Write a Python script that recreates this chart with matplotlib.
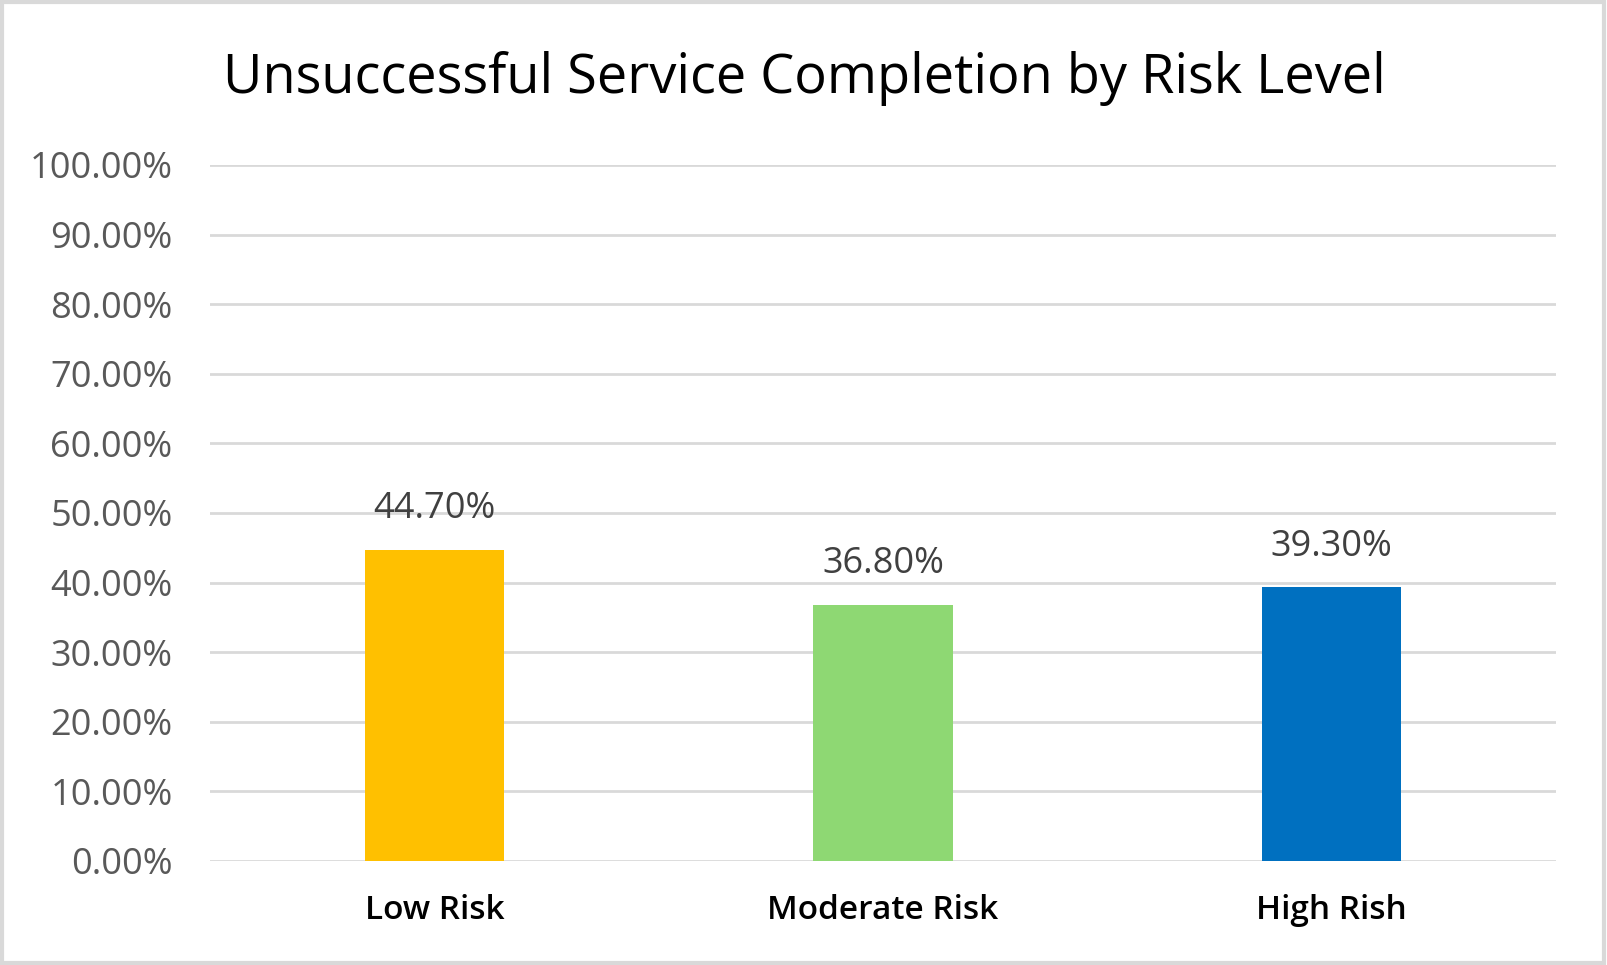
import matplotlib.pyplot as plt
from matplotlib.patches import Rectangle

# data
categories = ["Low Risk", "Moderate Risk", "High Rish"]
values = [44.70, 36.80, 39.30]
colors = ["#FFC000", "#8ED873", "#0070C0"]
yticks = [0, 10, 20, 30, 40, 50, 60, 70, 80, 90, 100]

plt.rcParams['font.family'] = ['Open Sans', 'DejaVu Sans']

fig = plt.figure(figsize=(16.07, 9.65), dpi=100)
ax = fig.add_axes([210 / 1607, 1 - 861 / 965, (1556 - 210) / 1607, (861 - 165) / 965])

x = range(len(categories))
bars = ax.bar(x, values, width=0.31, color=colors, zorder=3)

for b, v in zip(bars, values):
    ax.text(b.get_x() + b.get_width() / 2, v + 3.3, "%.2f%%" % v,
            ha="center", va="bottom", fontsize=26, color="#404040")

ax.set_xlim(-0.5, len(categories) - 0.5)
ax.set_ylim(0, 100)
ax.set_yticks(yticks)
ax.set_yticklabels(["%.2f%%" % t for t in yticks], fontsize=26, color="#595959")
ax.set_xticks(list(x))
ax.set_xticklabels(categories, fontsize=24, color="#000000", fontweight="semibold")
ax.tick_params(axis="both", length=0)
ax.tick_params(axis="y", pad=27)
ax.tick_params(axis="x", pad=24)
ax.grid(axis="y", color="#D9D9D9", linewidth=2, zorder=0)
for s in ax.spines.values():
    s.set_visible(False)

fig.text(804 / 1607, 1 - 78 / 965, "Unsuccessful Service Completion by Risk Level",
         ha="center", va="center", fontsize=39, color="#000000")

# outer chart border
fig.patches.append(Rectangle((0.001, 0.002), 0.997, 0.996, transform=fig.transFigure,
                             fill=False, edgecolor="#D9D9D9", linewidth=3))

fig.savefig("out.png", dpi=100)
